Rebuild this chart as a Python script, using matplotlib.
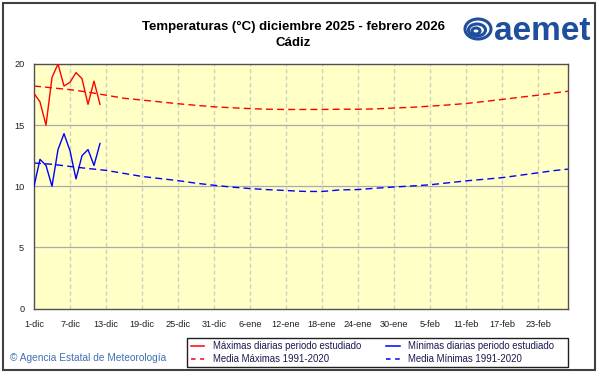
import numpy as np
import matplotlib
matplotlib.use("Agg")
import matplotlib.pyplot as plt
from matplotlib.patches import Rectangle, Ellipse
from matplotlib.lines import Line2D

plt.rcParams['font.family'] = ['Liberation Sans', 'DejaVu Sans']

# ---- data ----
title = "Temperaturas (°C) diciembre 2025 - febrero 2026"
station = "Cádiz"
tick_labels = ["1-dic", "7-dic", "13-dic", "19-dic", "25-dic", "31-dic", "6-ene",
               "12-ene", "18-ene", "24-ene", "30-ene", "5-feb", "11-feb", "17-feb", "23-feb"]
tick_days = [0, 6, 12, 18, 24, 30, 36, 42, 48, 54, 60, 66, 72, 78, 84]
n_days = 90  # 1-dic-2025 .. 28-feb-2026

obs_days = [0, 1, 2, 3, 4, 5, 6, 7, 8, 9, 10, 11]
tmax_obs = [17.6, 16.9, 15.0, 18.9, 20.0, 18.2, 18.5, 19.3, 18.8, 16.7, 18.6, 16.7]
tmin_obs = [10.0, 12.2, 11.7, 10.0, 13.0, 14.3, 12.9, 10.6, 12.5, 13.0, 11.7, 13.5]

mean_days = [0, 3, 6, 9, 12, 15, 18, 21, 24, 27, 30, 33, 36, 39, 42, 45, 48, 51,
             54, 57, 60, 63, 66, 69, 72, 75, 78, 81, 84, 87, 89]
tmax_mean = [18.2, 18.05, 17.9, 17.7, 17.45, 17.2, 17.05, 16.9, 16.75, 16.62, 16.5,
             16.42, 16.35, 16.3, 16.28, 16.28, 16.28, 16.3, 16.3, 16.33, 16.4, 16.46,
             16.55, 16.65, 16.77, 16.93, 17.1, 17.28, 17.45, 17.65, 17.77]
tmin_mean = [11.9, 11.8, 11.62, 11.45, 11.3, 11.05, 10.8, 10.63, 10.46, 10.25, 10.08,
             9.93, 9.81, 9.72, 9.65, 9.58, 9.57, 9.7, 9.73, 9.84, 9.94, 10.02, 10.12,
             10.28, 10.44, 10.57, 10.7, 10.9, 11.1, 11.3, 11.4]

legend_labels = ["Máximas diarias periodo estudiado", "Media Máximas 1991-2020",
                 "Mínimas diarias periodo estudiado", "Media Mínimas 1991-2020"]

# ---- figure ----
W, H = 601, 374
fig = plt.figure(figsize=(W / 100, H / 100), dpi=100)
fig.patch.set_facecolor('white')

L, R, T, B = 34, 568, 64, 308.5
ax = fig.add_axes([L / W, 1 - B / H, (R - L) / W, (B - T) / H])
ax.set_facecolor('#FFFFC6')
ax.set_xlim(0, n_days - 1)
ax.set_ylim(0, 20)

for d in tick_days[1:]:
    ax.axvline(d, color='#CFCFC4', lw=1, ls=(0, (3, 2)), zorder=1)
for v in [5, 10, 15]:
    ax.axhline(v, color='#ABABAB', lw=0.9, zorder=1)

red, blue = '#FF0000', '#0000FF'
ax.plot(obs_days, tmax_obs, color=red, lw=1.0, zorder=3)
ax.plot(obs_days, tmin_obs, color=blue, lw=1.0, zorder=3)
ax.plot(mean_days, tmax_mean, color=red, lw=1.0, ls=(0, (5, 3)), zorder=2)
ax.plot(mean_days, tmin_mean, color=blue, lw=1.0, ls=(0, (5, 3)), zorder=2)

ax.set_xticks(tick_days)
ax.set_xticklabels(tick_labels)
ax.set_yticks([0, 5, 10, 15, 20])
ax.tick_params(axis='both', length=0, labelsize=6.6, colors='#202020')
ax.tick_params(axis='x', pad=8)
ax.tick_params(axis='y', pad=7)
for s in ax.spines.values():
    s.set_color('#505050')
    s.set_linewidth(1)

# title
fig.text(293 / W, 1 - 27 / H, title, ha='center', va='center',
         fontsize=9.5, fontweight='bold', color='#000000')
fig.text(293 / W, 1 - 43 / H, station, ha='center', va='center',
         fontsize=9.5, fontweight='bold', color='#000000')

# logo
logo_c = '#1F4E9C'
fig.text(494 / W, 1 - 31 / H, "aemet", ha='left', va='center', fontsize=24,
         fontweight='bold', color=logo_c)
for (cx, cy, w, h) in [(478, 29, 26, 20), (477, 30, 17, 12), (476, 31, 8, 6)]:
    fig.patches.append(Ellipse((cx / W, 1 - cy / H), w / W, h / H, angle=0,
                               transform=fig.transFigure, fill=False,
                               edgecolor=logo_c, lw=2.2))

# footer
fig.text(10 / W, 1 - 358 / H, "© Agencia Estatal de Meteorología", ha='left',
         va='center', fontsize=7.3, color='#4070B4')

# legend
handles = [Line2D([], [], color=red, lw=1.1),
           Line2D([], [], color=red, lw=1.1, ls=(0, (3, 3))),
           Line2D([], [], color=blue, lw=1.1),
           Line2D([], [], color=blue, lw=1.1, ls=(0, (3, 3)))]
lx0, lx1, ly0, ly1 = 187, 568, 338, 367
fig.patches.append(Rectangle((lx0 / W, 1 - ly1 / H), (lx1 - lx0) / W, (ly1 - ly0) / H,
                             transform=fig.transFigure, fill=False,
                             edgecolor='#202020', lw=1))
leg = fig.legend(handles, legend_labels, ncol=2, loc='center left',
                 bbox_to_anchor=(191 / W, 1 - 352.5 / H),
                 fontsize=6.9, frameon=False,
                 handlelength=1.4, handletextpad=0.9, borderpad=0,
                 labelspacing=0.3, columnspacing=2.6, borderaxespad=0)
for t in leg.get_texts():
    t.set_color('#1A1A50')

# outer frame
fig.patches.append(Rectangle((3 / W, 1 - 370 / H), 592 / W, 367 / H,
                             transform=fig.transFigure, fill=False,
                             edgecolor='#404040', lw=1.5))

fig.savefig('out.png', dpi=100)
